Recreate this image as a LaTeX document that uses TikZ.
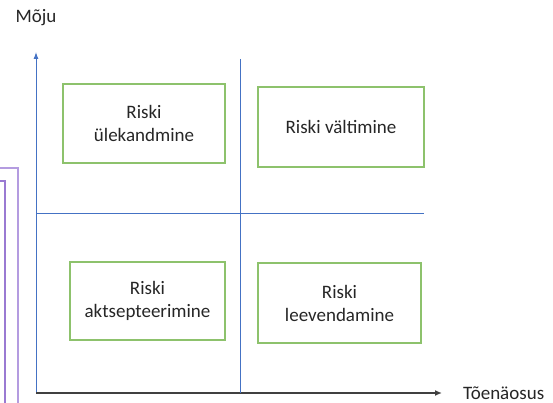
\documentclass[tikz,border=0pt]{standalone}
\usepackage{fontspec}
\setmainfont{Carlito}
\usetikzlibrary{arrows.meta}
\definecolor{asse}{HTML}{4472C4}
\definecolor{verde}{HTML}{8DC26C}
\definecolor{violachiaro}{HTML}{B49CE0}
\definecolor{violascuro}{HTML}{9A7AD2}
\definecolor{testo}{HTML}{262626}
\begin{document}
\begin{tikzpicture}[x=1pt,y=-1pt,
  riquadro/.style={draw=verde,line width=1.4pt,align=center,text=testo,
    inner sep=0pt,font=\fontsize{19}{23}\selectfont},
  etichetta/.style={text=testo,inner sep=0pt,font=\fontsize{19}{23}\selectfont}]
  \useasboundingbox (0,0) rectangle (553,403);

  % cornici viola a sinistra
  \draw[violachiaro,line width=2.6pt] (0,168) -- (18,168) -- (18,403);
  \draw[violascuro,line width=2.6pt] (0,181) -- (5,181) -- (5,403);

  % assi
  \coordinate (O) at (36,393);
  \coordinate (ytip) at (36,52);
  \coordinate (xtip) at (442,393);
  \node[etichetta] (moju) at (36,18) {Mõju};
  \node[etichetta,anchor=west] (toen) at (463,393) {Tõenäosus};
  \draw[asse,line width=1pt,-{Latex[length=7pt,width=5pt]}] (O) -- (ytip);
  \draw[black!75,line width=1.5pt,-{Latex[length=7pt,width=6pt]}] (O) -- (xtip);

  % quadranti
  \coordinate (hl) at (36,213);
  \coordinate (hr) at (424,213);
  \coordinate (vt) at (240,59);
  \coordinate (vb) at (240,393);
  \draw[asse,line width=1pt] (hl) -- (hr);
  \draw[asse,line width=1pt] (vt) -- (vb);

  % riquadri
  \node[riquadro,minimum width=162pt,minimum height=79pt] (trasf) at (144,123.5) {Riski\\ülekandmine};
  \node[riquadro,minimum width=166pt,minimum height=80pt] (evit) at (341,127) {Riski vältimine};
  \node[riquadro,minimum width=155pt,minimum height=78pt] (accett) at (147.5,301) {Riski\\aktsepteerimine};
  \node[riquadro,minimum width=163pt,minimum height=80pt] (mitig) at (339.5,303) {Riski\\leevendamine};
\end{tikzpicture}
\end{document}
